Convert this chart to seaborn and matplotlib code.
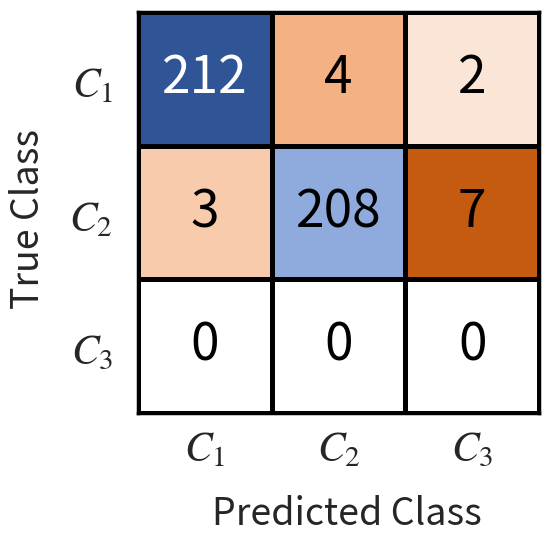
import matplotlib
matplotlib.use("Agg")
import matplotlib.pyplot as plt
from matplotlib.colors import LinearSegmentedColormap
from matplotlib.transforms import ScaledTranslation
import numpy as np
import pandas as pd
import seaborn as sns

# confusion matrix values (rows = true class, cols = predicted class)
classes = ["$C_1$", "$C_2$", "$C_3$"]
row_c1 = [212, 4, 2]
row_c2 = [3, 208, 7]
row_c3 = [0, 0, 0]

sns.set_theme(style="white")
plt.rcParams['font.family'] = ['Noto Sans CJK SC', 'DejaVu Sans']
plt.rcParams['mathtext.fontset'] = 'stix'

cm = pd.DataFrame([row_c1, row_c2, row_c3], index=classes, columns=classes)
diag = np.eye(3, dtype=bool)

# office-style blues for the diagonal, oranges off the diagonal
blues = LinearSegmentedColormap.from_list(
    "diag", [(0, "#ffffff"), (208 / 212, "#8faadc"), (1, "#2f5597")], N=4096)
oranges = LinearSegmentedColormap.from_list(
    "off", [(0, "#ffffff"), (2 / 7, "#fbe5d6"), (3 / 7, "#f8cbad"),
            (4 / 7, "#f4b183"), (1, "#c55a11")], N=4096)

fig = plt.figure(figsize=(5.5, 5.35), dpi=100)
ax = fig.add_axes([0.251, 0.228, 0.729, 0.75])

kw = dict(annot=True, fmt="d", cbar=False, linewidths=2.5, linecolor="black",
          annot_kws={"fontsize": 37, "color": "black"}, ax=ax)
sns.heatmap(cm, mask=~diag, cmap=blues, vmin=0, vmax=212, **kw)
sns.heatmap(cm, mask=diag, cmap=oranges, vmin=0, vmax=7, **kw)

for t in ax.texts:
    if t.get_text() == str(cm.values.max()):
        t.set_color("white")

for s in ax.spines.values():
    s.set_visible(True)
    s.set_color("black")
    s.set_linewidth(2.5)

ax.tick_params(length=0, labelsize=30)
ax.tick_params(axis="x", pad=12)
ax.tick_params(axis="y", pad=18)
plt.setp(ax.get_yticklabels(), rotation=0)
# nudge row labels down a little, like the reference
shift = ScaledTranslation(0, -5 / 72, fig.dpi_scale_trans)
for lbl in ax.get_yticklabels():
    lbl.set_transform(lbl.get_transform() + shift)

ax.set_xlabel("Predicted Class", fontsize=27)
ax.set_ylabel("True Class", fontsize=27)
ax.xaxis.set_label_coords(0.522, -0.205)
ax.yaxis.set_label_coords(-0.225, 0.484)

plt.savefig("out.png", dpi=100)
